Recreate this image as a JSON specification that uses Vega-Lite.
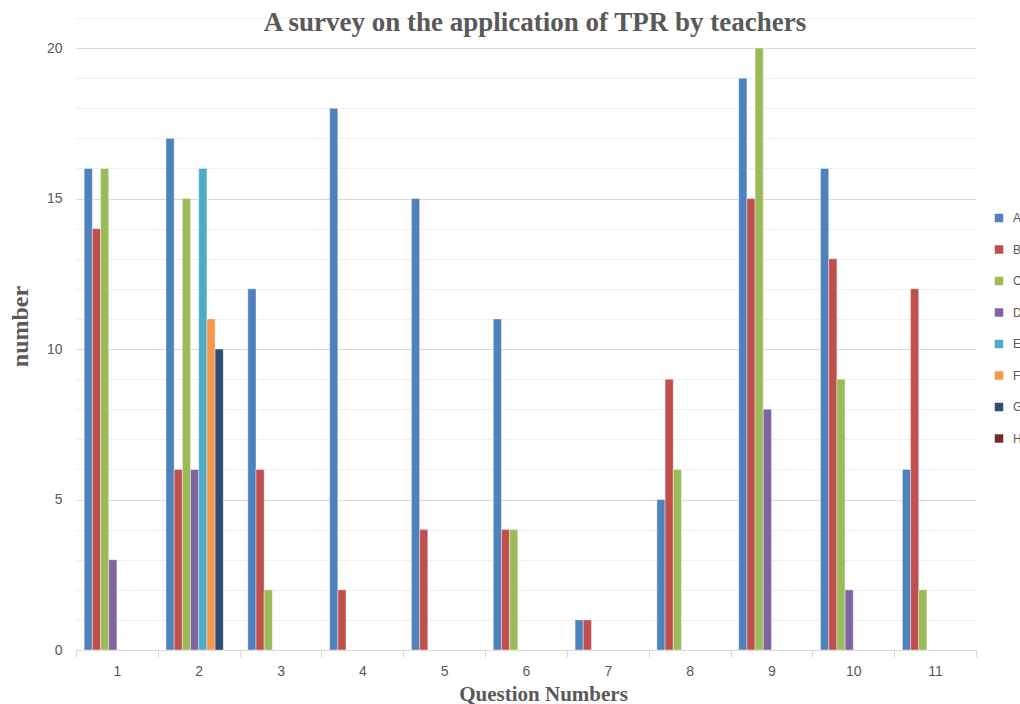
{
  "$schema": "https://vega.github.io/schema/vega-lite/v6.json",
  "width": 900,
  "height": 632,
  "autosize": "none",
  "padding": {"left": 76, "top": 18, "right": 44, "bottom": 54},
  "background": "white",
  "config": {"view": {"stroke": null}},
  "title": {
    "text": "A survey on the application of TPR by teachers",
    "font": "Liberation Serif",
    "fontSize": 27,
    "fontWeight": "bold",
    "color": "#595959",
    "anchor": "middle",
    "dx": 9,
    "offset": -19
  },
  "data": {
    "values": [
      {"question": "1", "option": "A", "count": 16},
      {"question": "1", "option": "B", "count": 14},
      {"question": "1", "option": "C", "count": 16},
      {"question": "1", "option": "D", "count": 3},
      {"question": "2", "option": "A", "count": 17},
      {"question": "2", "option": "B", "count": 6},
      {"question": "2", "option": "C", "count": 15},
      {"question": "2", "option": "D", "count": 6},
      {"question": "2", "option": "E", "count": 16},
      {"question": "2", "option": "F", "count": 11},
      {"question": "2", "option": "G", "count": 10},
      {"question": "3", "option": "A", "count": 12},
      {"question": "3", "option": "B", "count": 6},
      {"question": "3", "option": "C", "count": 2},
      {"question": "4", "option": "A", "count": 18},
      {"question": "4", "option": "B", "count": 2},
      {"question": "5", "option": "A", "count": 15},
      {"question": "5", "option": "B", "count": 4},
      {"question": "6", "option": "A", "count": 11},
      {"question": "6", "option": "B", "count": 4},
      {"question": "6", "option": "C", "count": 4},
      {"question": "7", "option": "A", "count": 1},
      {"question": "7", "option": "B", "count": 1},
      {"question": "8", "option": "A", "count": 5},
      {"question": "8", "option": "B", "count": 9},
      {"question": "8", "option": "C", "count": 6},
      {"question": "9", "option": "A", "count": 19},
      {"question": "9", "option": "B", "count": 15},
      {"question": "9", "option": "C", "count": 20},
      {"question": "9", "option": "D", "count": 8},
      {"question": "10", "option": "A", "count": 16},
      {"question": "10", "option": "B", "count": 13},
      {"question": "10", "option": "C", "count": 9},
      {"question": "10", "option": "D", "count": 2},
      {"question": "11", "option": "A", "count": 6},
      {"question": "11", "option": "B", "count": 12},
      {"question": "11", "option": "C", "count": 2}
    ]
  },
  "mark": {"type": "bar", "stroke": "white", "strokeWidth": 0.4},
  "encoding": {
    "x": {
      "field": "question",
      "type": "nominal",
      "sort": ["1","2","3","4","5","6","7","8","9","10","11"],
      "scale": {"paddingInner": 0, "paddingOuter": 0},
      "axis": {
        "title": "Question Numbers",
        "titleFont": "Liberation Serif",
        "titleFontSize": 21,
        "titleFontWeight": "bold",
        "titleColor": "#595959",
        "titleX": 467,
        "titleY": 50,
        "titleBaseline": "alphabetic",
        "labelAngle": 0,
        "labelFont": "Liberation Sans",
        "labelFontSize": 14,
        "labelColor": "#595959",
        "labelPadding": 7,
        "domainColor": "#d9d9d9",
        "tickColor": "#d9d9d9",
        "tickSize": 7,
        "tickBand": "extent",
        "grid": false
      }
    },
    "xOffset": {
      "field": "option",
      "type": "nominal",
      "scale": {"domain": ["A","B","C","D","E","F","G","H"], "paddingInner": 0, "paddingOuter": 1.45}
    },
    "y": {
      "field": "count",
      "type": "quantitative",
      "scale": {"domain": [0, 21], "nice": false},
      "axis": {
        "title": "number",
        "titleFont": "Liberation Serif",
        "titleFontSize": 24,
        "titleFontWeight": "bold",
        "titleColor": "#595959",
        "titlePadding": 14,
        "titleY": 308,
        "values": [0,1,2,3,4,5,6,7,8,9,10,11,12,13,14,15,16,17,18,19,20,21],
        "labelExpr": "datum.value % 5 === 0 ? datum.label : ''",
        "labelFont": "Liberation Sans",
        "labelFontSize": 14,
        "labelColor": "#595959",
        "labelPadding": 14,
        "domain": false,
        "ticks": false,
        "grid": true,
        "gridColor": {"condition": {"test": "datum.value % 5 === 0", "value": "#d9d9d9"}, "value": "#efefef"},
        "gridWidth": 1
      }
    },
    "color": {
      "field": "option",
      "type": "nominal",
      "scale": {
        "domain": ["A","B","C","D","E","F","G","H"],
        "range": ["#4F81BD","#C0504D","#9BBB59","#8064A2","#4BACC6","#F79646","#2C4D75","#772C2A"]
      },
      "legend": {
        "title": null,
        "orient": "none",
        "legendX": 917,
        "legendY": 194,
        "padding": 0,
        "symbolType": "square",
        "symbolSize": 72,
        "symbolStrokeWidth": 0,
        "labelFont": "Liberation Sans",
        "labelFontSize": 12,
        "labelColor": "#595959",
        "labelOffset": 8,
        "rowPadding": 19.5
      }
    }
  }
}
